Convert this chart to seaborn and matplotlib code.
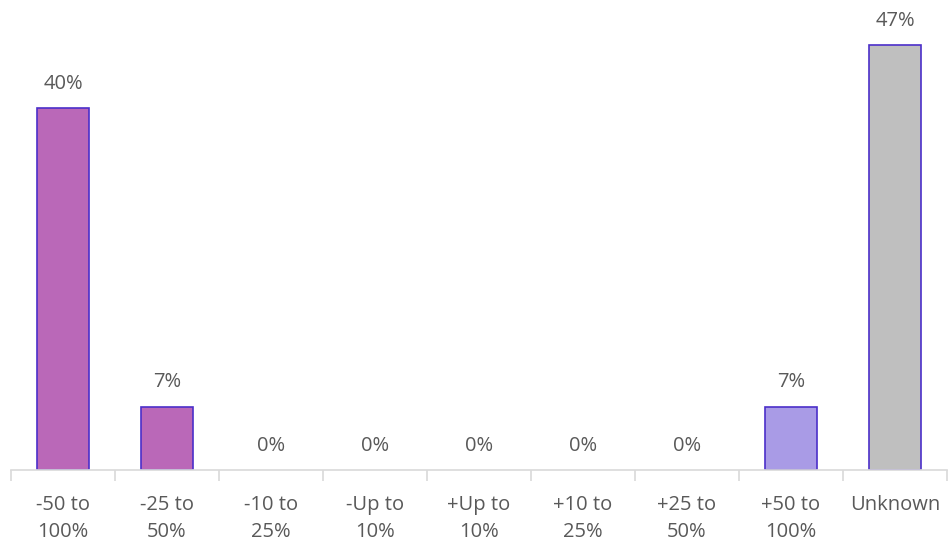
import matplotlib
matplotlib.use("Agg")
import matplotlib.pyplot as plt
import seaborn as sns
import pandas as pd

categories = ["-50 to\n100%", "-25 to\n50%", "-10 to\n25%", "-Up to\n10%", "+Up to\n10%",
              "+10 to\n25%", "+25 to\n50%", "+50 to\n100%", "Unknown"]
values = [40, 7, 0, 0, 0, 0, 0, 7, 47]
bar_colors = ["#BA68B8", "#BA68B8", "#BA68B8", "#BA68B8", "#A99BE6",
              "#A99BE6", "#A99BE6", "#A99BE6", "#BFBFBF"]

df = pd.DataFrame({"cat": categories, "val": values})

sns.set_style("white")
plt.rcParams['font.family'] = ['Open Sans', 'DejaVu Sans']

fig = plt.figure(figsize=(9.48, 5.4), dpi=100)
ax = fig.add_axes([11/948, 70/540, 936/948, 452/540])

sns.barplot(data=df, x="cat", y="val", hue="cat", palette=dict(zip(categories, bar_colors)),
            legend=False, width=0.5, edgecolor="#4B2FC9", linewidth=1.2, ax=ax, saturation=1)
for p in ax.patches:
    if p.get_height() == 0:
        p.set_linewidth(0)

ax.set_ylim(0, 50)
ax.set_xlim(-0.5, len(categories) - 0.5)
for i, v in enumerate(values):
    ax.text(i, v + 1.6, f"{v}%", ha="center", va="bottom", fontsize=14.5, color="#595959")

for s in ["top", "right", "left"]:
    ax.spines[s].set_visible(False)
ax.spines["bottom"].set_color("#D9D9D9")
ax.spines["bottom"].set_linewidth(1.2)
ax.set_yticks([])
ax.set_xlabel("")
ax.set_ylabel("")
ax.set_xticks(range(len(categories)))
ax.set_xticklabels(categories, fontsize=14.5, color="#595959", linespacing=1.45)
ax.tick_params(axis="x", which="major", bottom=False, length=0, pad=18)
ax.set_xticks([i - 0.5 for i in range(len(categories) + 1)], minor=True)
ax.tick_params(axis="x", which="minor", bottom=True, length=8, color="#D9D9D9", width=1.2, direction="out")

fig.savefig("out.png", dpi=100)
